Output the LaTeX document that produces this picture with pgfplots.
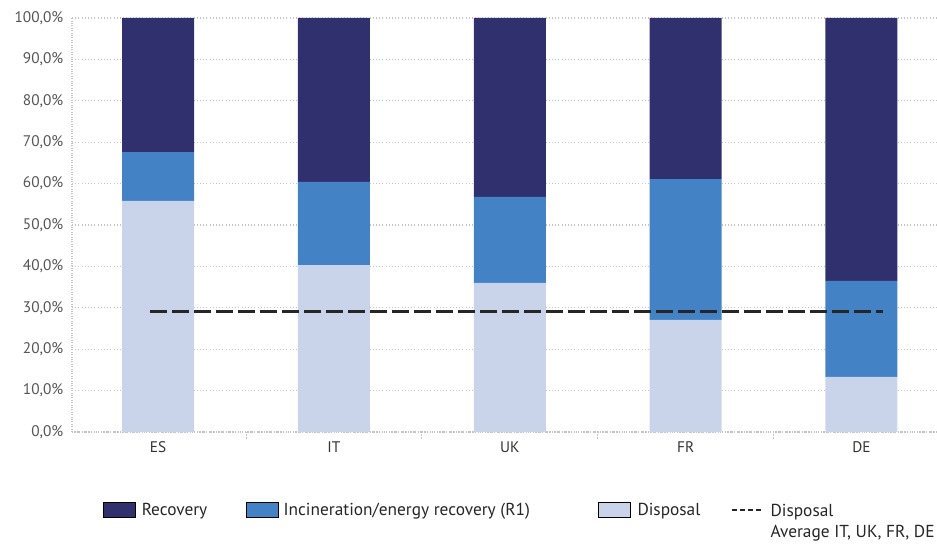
\documentclass[border=0pt]{standalone}
\usepackage{pgfplots}
\pgfplotsset{compat=1.18}
\usepackage{pgfplotstable}
\usepackage{fontspec}
\setmainfont{PT Sans}
\definecolor{recov}{HTML}{31306E}
\definecolor{incin}{HTML}{4383C5}
\definecolor{disp}{HTML}{C9D4EA}
\definecolor{gridc}{HTML}{C4C4C4}
\definecolor{ylab}{HTML}{555555}
\definecolor{xlab}{HTML}{333333}
\pgfplotstableread{
x disp incin recov
0 55.8 11.8 32.4
1 40.3 20.1 39.6
2 36.0 20.8 43.2
3 27.1 34.0 38.9
4 13.3 23.2 63.5
}\data
\pgfplotsset{
  boxlegend/.style={legend image code/.code={\fill[##1] (0pt,-5.5pt) rectangle (24pt,5.5pt);}},
  dashlegend/.style={legend image code/.code={\draw[black!85, line width=1.3pt, dash pattern=on 4pt off 2pt] (0pt,0pt) -- (22.5pt,0pt);}},
  common/.style={
    at={(0,0)}, anchor=south west, scale only axis,
    width=648.75pt, height=310.5pt,
    xmin=-0.49, xmax=4.43, ymin=0, ymax=100,
  }
}
\begin{document}
\begin{tikzpicture}[font=\fontsize{11.5}{14}\selectfont]
\useasboundingbox (-54pt,-83.25pt) rectangle (648.75pt,324pt);
\begin{axis}[common,
  ybar stacked, bar width=54pt,
  axis x line*=bottom, axis y line*=left,
  axis line style={draw=gridc, densely dotted, line width=0.8pt},
  ymajorgrids, grid style={gridc, dotted, line width=0.8pt},
  ytick={0,10,...,100},
  yticklabels={{0,0\%},{10,0\%},{20,0\%},{30,0\%},{40,0\%},{50,0\%},{60,0\%},{70,0\%},{80,0\%},{90,0\%},{100,0\%}},
  xtick={0,1,2,3,4}, xticklabels={ES,IT,UK,FR,DE},
  minor xtick={0.5,1.5,2.5,3.5},
  major tick length=0pt, minor tick length=5pt, tick align=outside,
  minor tick style={gridc, densely dotted, line width=0.8pt},
  yticklabel style={text=ylab, xshift=-3pt},
  xticklabel style={text=xlab, yshift=-4pt},
  legend columns=4,
  legend style={draw=none, fill=none, inner sep=0pt, at={(0.0358,-0.1884)}, anchor=west,
    font=\fontsize{13}{15}\selectfont, nodes={inner sep=0pt, text=black!85}},
]
\addplot[fill=disp, draw=none, forget plot] table[x=x,y=disp]{\data};
\addplot[fill=incin, draw=none, forget plot] table[x=x,y=incin]{\data};
\addplot[fill=recov, draw=none, forget plot] table[x=x,y=recov]{\data};
\addlegendimage{boxlegend, fill=recov}
\addlegendentry{\makebox[82.5pt][l]{\hspace{4.5pt}Recovery}}
\addlegendimage{boxlegend, fill=incin}
\addlegendentry{\makebox[240pt][l]{\hspace{4pt}Incineration/energy recovery (R1)}}
\addlegendimage{boxlegend, fill=disp}
\addlegendentry{\makebox[75pt][l]{\hspace{5pt}Disposal}}
\addlegendimage{dashlegend}
\addlegendentry{\hspace{6pt}\begin{tabular}[t]{@{}l@{}}Disposal\\[1pt]Average IT, UK, FR, DE\end{tabular}}
\end{axis}
\begin{axis}[common, hide axis]
\addplot[draw=black!85, line width=2.2pt, dash pattern=on 12.75pt off 3.75pt] coordinates {(-0.045,29.2) (4.12,29.2)};
\end{axis}
\end{tikzpicture}
\end{document}
